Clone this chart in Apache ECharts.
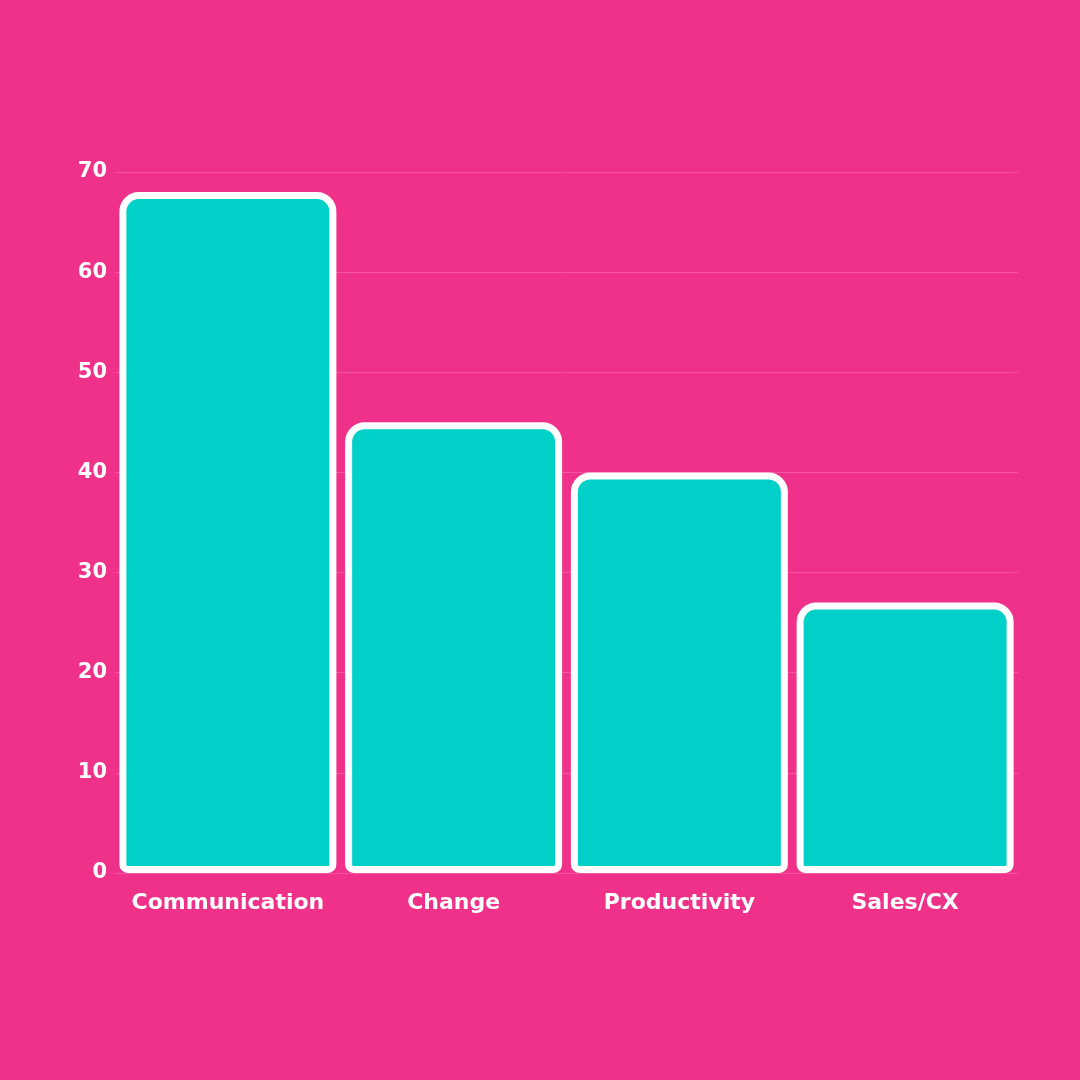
<!DOCTYPE html>
<html>
<head>
<meta charset="utf-8">
<script src="https://cdn.jsdelivr.net/npm/echarts@6/dist/echarts.min.js"></script>
<style>
  html, body { margin: 0; padding: 0; background: #f0318a; }
  #chart { width: 1080px; height: 1080px; }
</style>
</head>
<body>
<div id="chart"></div>
<script>
var categories = ['Communication', 'Change', 'Productivity', 'Sales/CX'];
var values = [68, 45, 40, 27];
var yTicks = [0, 10, 20, 30, 40, 50, 60, 70];

var textStyle = {
    fontFamily: 'DejaVu Sans',
    color: '#fff',
    fontWeight: 'bold'
};

var option = {
    backgroundColor: '#f0318a',
    textStyle: textStyle,
    grid: {
        left: 115,
        right: 62,
        top: 172,
        bottom: 207
    },
    xAxis: {
        type: 'category',
        data: categories,
        axisLine: { show: false },
        axisTick: { show: false },
        axisLabel: {
            interval: 0,
            color: '#fff',
            fontFamily: 'DejaVu Sans',
            fontWeight: 'bold',
            fontSize: 22,
            margin: 19
        }
    },
    yAxis: {
        type: 'value',
        min: yTicks[0],
        max: yTicks[yTicks.length - 1],
        interval: 10,
        axisLine: { show: false },
        axisTick: { show: false },
        axisLabel: {
            color: '#fff',
            fontFamily: 'DejaVu Sans',
            fontWeight: 'bold',
            fontSize: 21,
            margin: 8
        },
        splitLine: {
            lineStyle: { color: 'rgba(255,255,255,0.18)', width: 1 }
        }
    },
    series: [{
        type: 'bar',
        data: values,
        barWidth: 217,
        itemStyle: {
            color: '#00d0c8',
            borderColor: '#ffffff',
            borderWidth: 7,
            borderRadius: [16, 16, 5, 5]
        },
        emphasis: { disabled: true }
    }]
};

echarts.init(document.getElementById('chart')).setOption(option);
</script>
</body>
</html>
